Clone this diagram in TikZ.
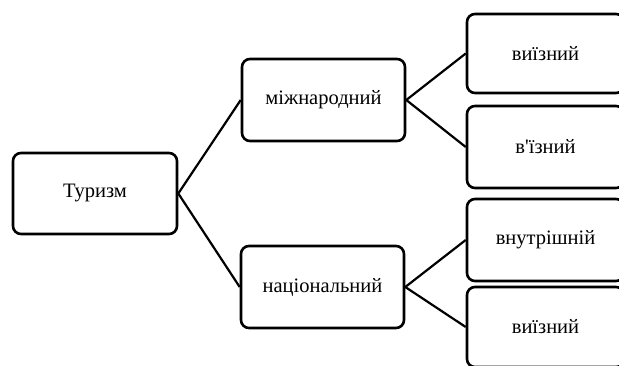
\documentclass[tikz,border=0pt]{standalone}
\usepackage{fontspec}
\setmainfont{Liberation Serif}[Ligatures=TeXOff]
\begin{document}
\begin{tikzpicture}[x=1pt,y=1pt,
  box/.style={draw=black, line width=2.6pt, rounded corners=8pt, fill=white,
    inner sep=0pt, font=\fontsize{20.5}{24}\selectfont},
  link/.style={draw=black, line width=2.2pt}]
\useasboundingbox (0,0) rectangle (619,365);
\node[box, minimum width=164pt, minimum height=81pt] (tur) at (95,171.5) {Туризм};
\node[box, minimum width=163pt, minimum height=82pt] (mizh) at (323.5,265) {міжнародний};
\node[box, minimum width=163pt, minimum height=82pt] (nats) at (322.5,78) {національний};
\node[box, minimum width=157pt, minimum height=79pt] (v1) at (545.5,311.5) {виїзний};
\node[box, minimum width=157pt, minimum height=82pt] (v2) at (545.5,218) {в'їзний};
\node[box, minimum width=157pt, minimum height=82pt] (v3) at (545.5,125) {внутрішній};
\node[box, minimum width=157pt, minimum height=80pt] (v4) at (545.5,38) {виїзний};
\draw[link] (tur.east) -- (mizh.west);
\draw[link] (tur.east) -- (nats.west);
\draw[link] (mizh.east) -- (v1.west);
\draw[link] (mizh.east) -- (v2.west);
\draw[link] (nats.east) -- (v3.west);
\draw[link] (nats.east) -- (v4.west);
\end{tikzpicture}
\end{document}
